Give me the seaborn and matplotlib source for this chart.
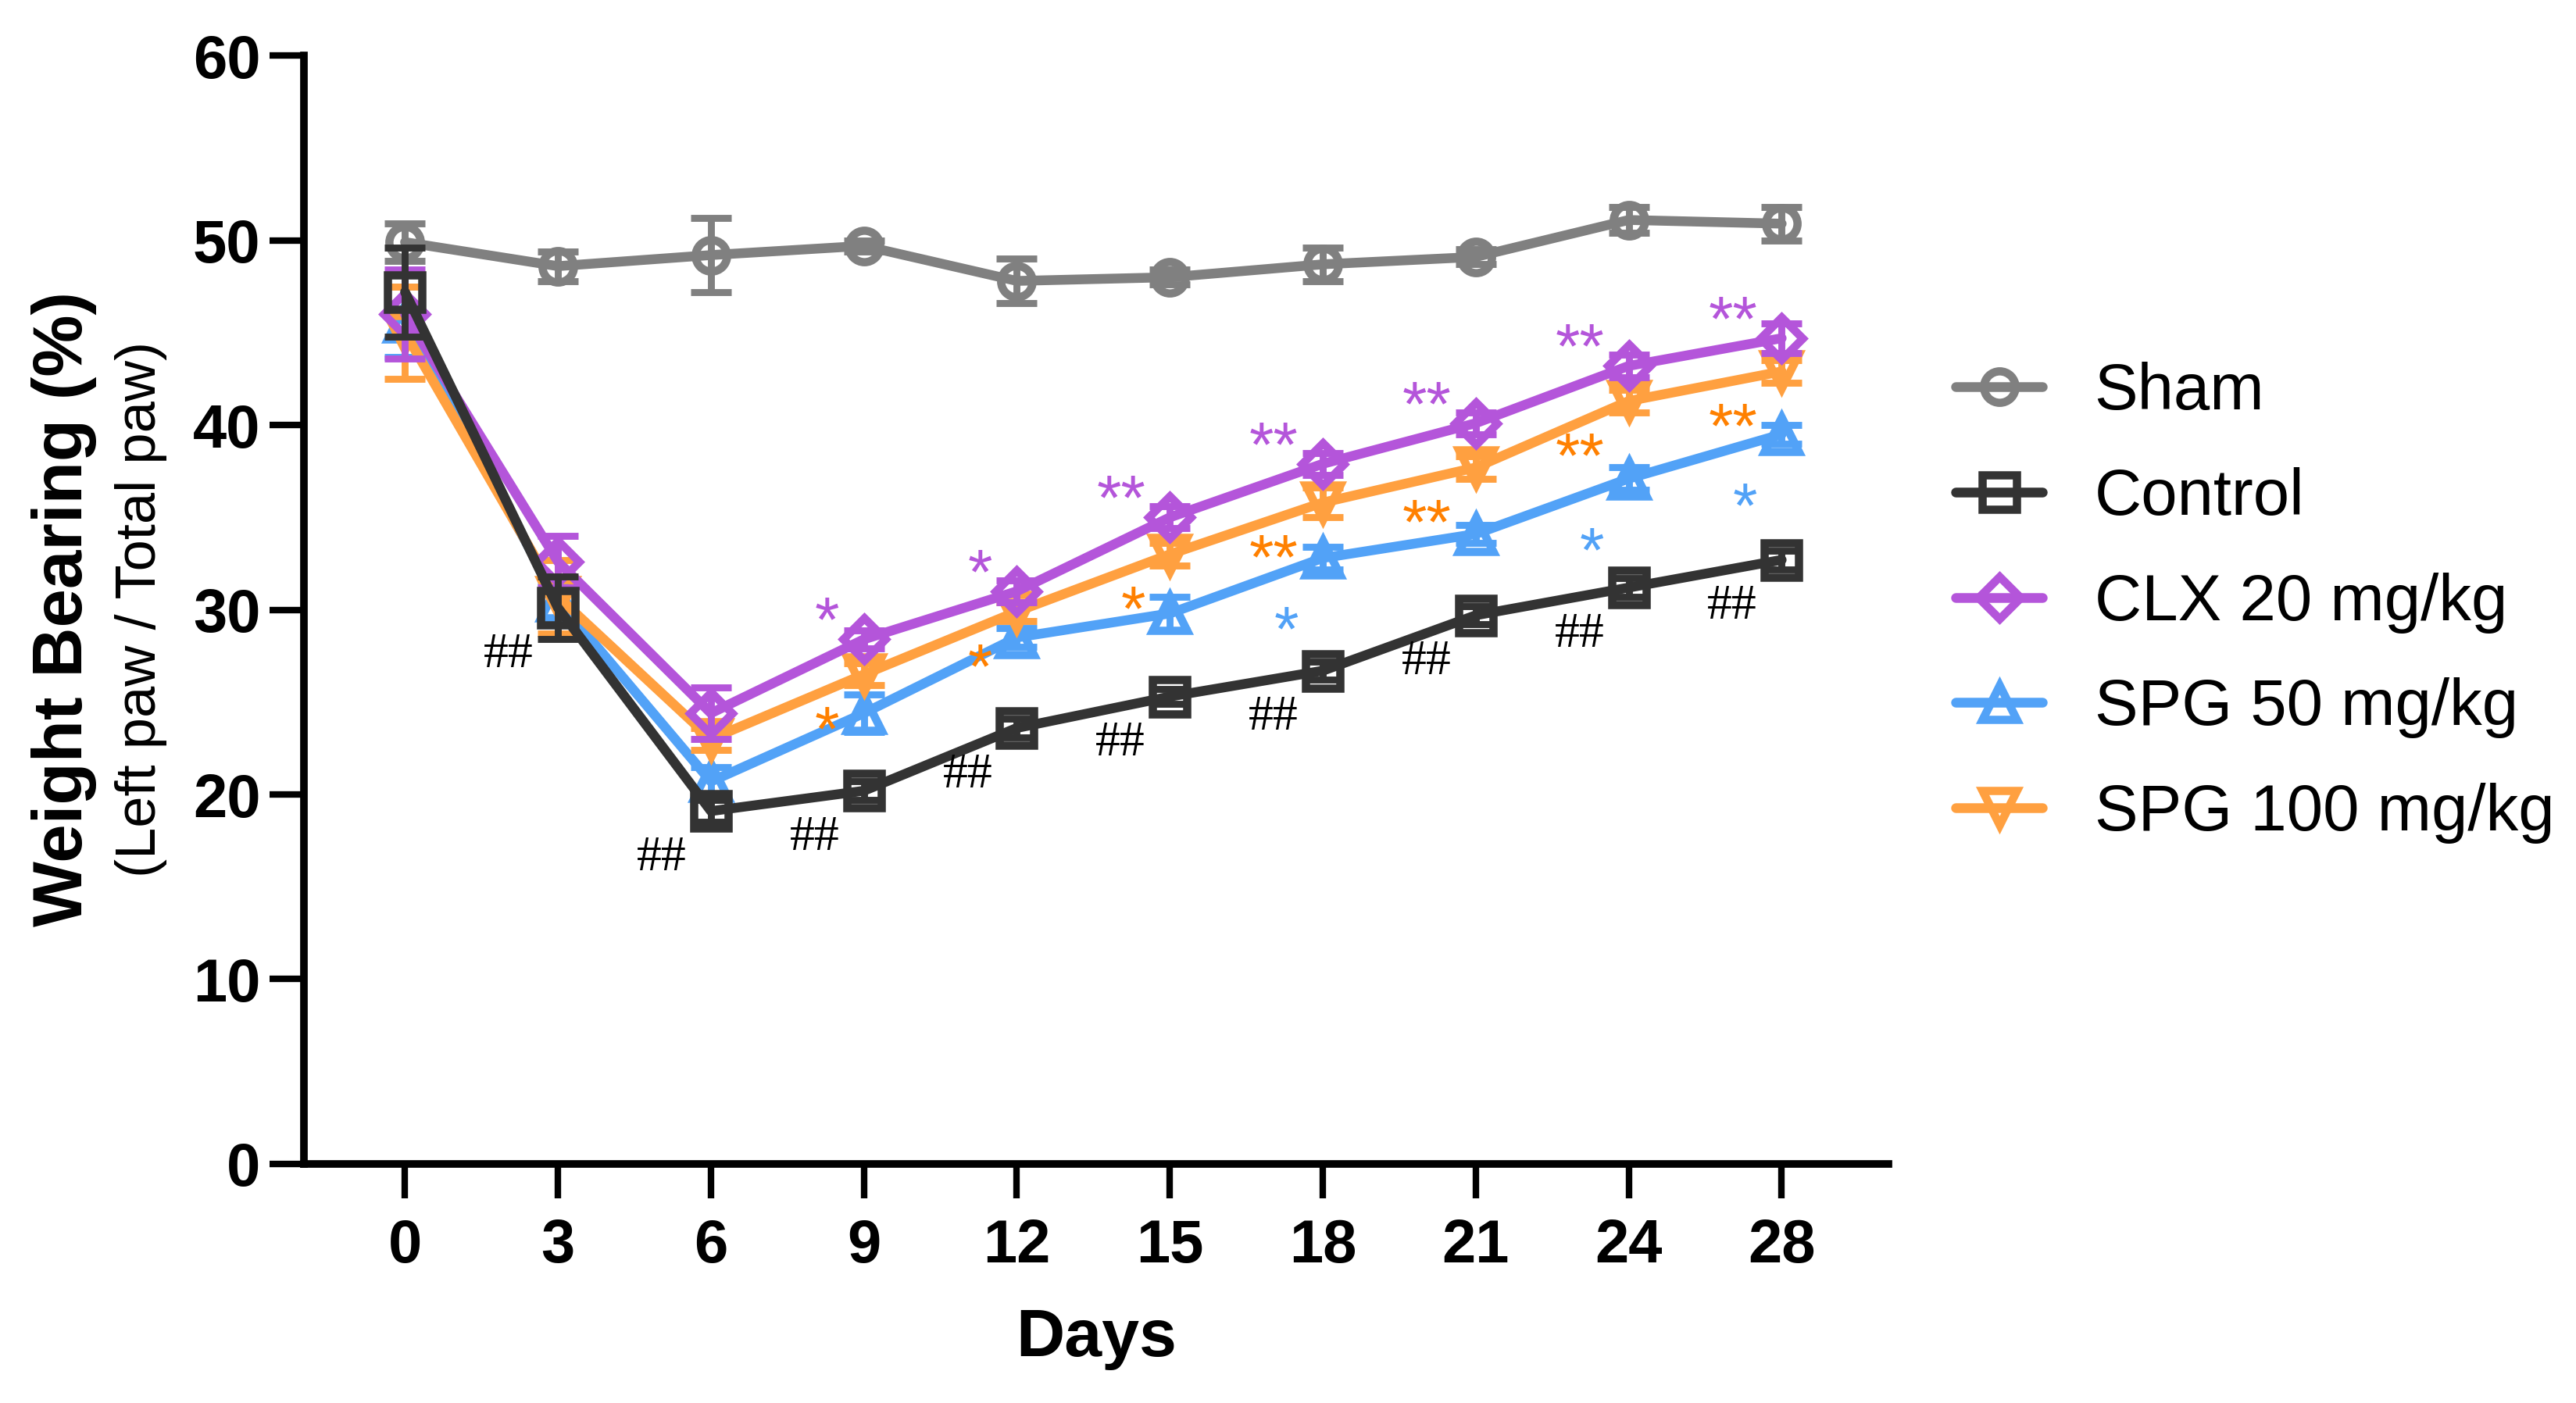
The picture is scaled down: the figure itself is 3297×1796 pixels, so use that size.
import numpy as np
import pandas as pd
import seaborn as sns
import matplotlib.pyplot as plt

# days on the x axis (plotted as evenly spaced categories)
days = [0, 3, 6, 9, 12, 15, 18, 21, 24, 28]

sham_mean = [49.9, 48.6, 49.2, 49.7, 47.8, 48.0, 48.7, 49.1, 51.1, 50.9]
sham_err = [1.0, 0.8, 2.0, 0.3, 1.2, 0.4, 0.9, 0.4, 0.7, 0.9]
control_mean = [47.2, 30.1, 19.1, 20.2, 23.6, 25.3, 26.7, 29.7, 31.2, 32.7]
control_err = [2.4, 1.7, 0.6, 0.5, 0.5, 0.4, 0.5, 0.5, 0.5, 0.5]
clx_mean = [46.0, 32.6, 24.4, 28.4, 31.0, 35.0, 37.9, 40.1, 43.2, 44.7]
clx_err = [2.4, 1.4, 1.4, 0.5, 0.6, 0.6, 0.6, 0.6, 0.6, 0.8]
spg50_mean = [45.6, 30.5, 20.7, 24.4, 28.5, 29.8, 32.8, 34.1, 37.1, 39.5]
spg50_err = [1.9, 1.0, 0.8, 1.0, 0.5, 0.9, 0.6, 0.5, 0.6, 0.5]
spg100_mean = [45.0, 30.7, 23.0, 26.5, 29.9, 33.0, 35.8, 37.7, 41.3, 42.9]
spg100_err = [2.5, 2.0, 0.6, 0.6, 0.5, 0.6, 0.8, 0.6, 0.6, 0.6]

# significance marks per day
control_marks = ['', '##', '##', '##', '##', '##', '##', '##', '##', '##']
clx_marks = ['', '', '', '*', '*', '**', '**', '**', '**', '**']
spg50_marks = ['', '', '', '', '', '', '*', '', '*', '*']
spg100_marks = ['', '', '', '*', '*', '*', '**', '**', '**', '**']

# name, mean, err, colour, marker, markersize, marks, mark colour, mark y offset, mark font
series = [
    ('SPG 50 mg/kg', spg50_mean, spg50_err, '#52A2F7', '^', 16, spg50_marks, '#52A2F7', -5.0, 'Liberation Sans'),
    ('SPG 100 mg/kg', spg100_mean, spg100_err, '#FFA040', 'v', 16, spg100_marks, '#FF8000', -4.1, 'Liberation Sans'),
    ('CLX 20 mg/kg', clx_mean, clx_err, '#B455DA', 'D', 14, clx_marks, '#B455DA', -0.1, 'Liberation Sans'),
    ('Sham', sham_mean, sham_err, '#808080', 'o', 14.5, None, None, 0, None),
    ('Control', control_mean, control_err, '#333333', 's', 15.5, control_marks, '#000000', -3.2, 'Liberation Serif'),
]
legend_order = ['Sham', 'Control', 'CLX 20 mg/kg', 'SPG 50 mg/kg', 'SPG 100 mg/kg']

sns.set_style('ticks')
plt.rcParams['font.family'] = ['Liberation Sans', 'DejaVu Sans']
for key in ['text.color', 'axes.labelcolor', 'xtick.color', 'ytick.color', 'axes.edgecolor']:
    plt.rcParams[key] = 'black'

fig = plt.figure(figsize=(16.49, 8.98), dpi=200)
ax = fig.add_axes([0.118, 0.1704, 0.615, 0.790])

xpos = np.arange(len(days))
for k, (name, mean, err, color, marker, ms, marks, mcolor, moff, mfont) in enumerate(series):
    ax.errorbar(xpos, mean, yerr=err, fmt='none', ecolor=color, elinewidth=3.2,
                capsize=9.5, capthick=3.2, zorder=2 + 2 * k)
    df = pd.DataFrame({'x': xpos, 'y': mean})
    sns.lineplot(data=df, x='x', y='y', ax=ax, color=color, linewidth=4.5,
                 marker=marker, markersize=ms, markerfacecolor='none',
                 markeredgecolor=color, markeredgewidth=3.8, label=name,
                 errorbar=None, legend=False, zorder=3 + 2 * k)
    if marks:
        for i, m in enumerate(marks):
            if m:
                size = 23 if m.startswith('#') else 29
                ax.text(xpos[i] - 0.16, mean[i] + moff, m, color=mcolor, fontsize=size,
                        family=mfont, ha='right', va='baseline', zorder=20)

ax.set_xlim(-0.66, 9.7)
ax.set_ylim(0, 60)
ax.set_yticks(range(0, 61, 10))
ax.set_xticks(xpos)
ax.set_xticklabels([str(d) for d in days])
sns.despine(ax=ax)
for s in ['left', 'bottom']:
    ax.spines[s].set_linewidth(3.5)
ax.tick_params(axis='both', length=16, width=3, labelsize=28)
ax.tick_params(axis='y', pad=4)
ax.tick_params(axis='x', pad=9)
for lab in ax.get_xticklabels() + ax.get_yticklabels():
    lab.set_fontweight('bold')

ax.set_xlabel('Days', fontsize=31, fontweight='bold', labelpad=15)
ax.set_ylabel('')
fig.text(0.025, 0.566, 'Weight Bearing (%)', rotation=90, fontsize=32,
         fontweight='bold', ha='center', va='center')
fig.text(0.0546, 0.566, '(Left paw / Total paw)', rotation=90, fontsize=26,
         ha='center', va='center')

handles, labels = ax.get_legend_handles_labels()
lookup = dict(zip(labels, handles))
ax.legend([lookup[n] for n in legend_order], legend_order, loc='upper left',
          bbox_to_anchor=(0.759, 0.742), bbox_transform=fig.transFigure,
          frameon=False, fontsize=30, handlelength=1.33, handletextpad=0.8,
          labelspacing=0.68, borderpad=0, borderaxespad=0)

fig.savefig('out.png', dpi=200)
